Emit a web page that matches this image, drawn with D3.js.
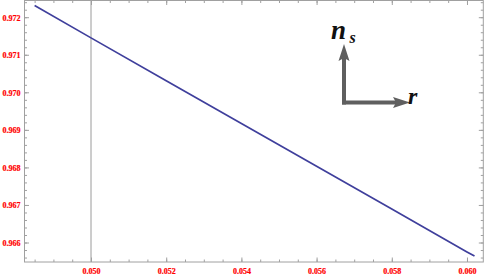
<!DOCTYPE html>
<html>
<head>
<meta charset="utf-8">
<script src="https://cdn.jsdelivr.net/npm/d3@7"></script>
<style>
  body { margin: 0; background: #fff; }
  svg { display: block; }
  .lbl { font-family: "Liberation Serif", "DejaVu Serif", serif; font-size: 8px; font-weight: bold; fill: #ff0000; stroke: #ff0000; stroke-width: 0.2px; }
</style>
</head>
<body>
<div id="chart"></div>
<script>
// values
const rValues  = [0.0485, 0.050, 0.052, 0.054, 0.056, 0.058, 0.060, 0.0602];
const nsValues = [0.97231, 0.97145, 0.97031, 0.96917, 0.96803, 0.96689, 0.96575, 0.96564];
const xTicks = [0.050, 0.052, 0.054, 0.056, 0.058, 0.060];
const yTicks = [0.966, 0.967, 0.968, 0.969, 0.970, 0.971, 0.972];
const xMinor = d3.range(0.0485, 0.0605, 0.0005);
const yMinor = d3.range(0.9656, 0.9725, 0.0002);

const width = 485, height = 277;
const margin = { top: 0.5, right: 1.7, bottom: 15, left: 24.5 };

const x = d3.scaleLinear()
    .domain([0.048231, 0.060434])
    .range([margin.left, width - margin.right]);
const y = d3.scaleLinear()
    .domain([0.965481, 0.972445])
    .range([height - margin.bottom, margin.top]);

const svg = d3.select("#chart").append("svg")
    .attr("width", width)
    .attr("height", height);

const frameColor = "#a0a0a0";

// origin axis line at r = 0.050
svg.append("line")
    .attr("x1", x(0.050)).attr("x2", x(0.050))
    .attr("y1", y.range()[1]).attr("y2", y.range()[0])
    .attr("stroke", "#9a9a9a").attr("stroke-width", 1);

// frame
svg.append("rect")
    .attr("x", x.range()[0]).attr("y", y.range()[1])
    .attr("width", x.range()[1] - x.range()[0])
    .attr("height", y.range()[0] - y.range()[1])
    .attr("fill", "none").attr("stroke", frameColor).attr("stroke-width", 1);

function ticks(axis, minor) {
  const g = svg.append("g");
  g.call(axis);
  g.select(".domain").remove();
  g.selectAll("line").attr("stroke", frameColor);
  if (minor) g.selectAll("text").remove();
  return g;
}

// minor ticks
ticks(d3.axisBottom(x).tickValues(xMinor).tickSize(-2.5).tickFormat(""), true)
    .attr("transform", `translate(0,${y.range()[0]})`);
ticks(d3.axisTop(x).tickValues(xMinor).tickSize(-2.5).tickFormat(""), true)
    .attr("transform", `translate(0,${y.range()[1]})`);
ticks(d3.axisLeft(y).tickValues(yMinor).tickSize(-2.5).tickFormat(""), true)
    .attr("transform", `translate(${x.range()[0]},0)`);
ticks(d3.axisRight(y).tickValues(yMinor).tickSize(-2.5).tickFormat(""), true)
    .attr("transform", `translate(${x.range()[1]},0)`);

// major ticks
const fmt = d3.format(".3f");
const bx = ticks(d3.axisBottom(x).tickValues(xTicks).tickSize(-4.5).tickFormat(fmt), false)
    .attr("transform", `translate(0,${y.range()[0]})`);
bx.selectAll("text").attr("class", "lbl").attr("dy", null).attr("y", 11.8);
ticks(d3.axisTop(x).tickValues(xTicks).tickSize(-4.5).tickFormat(""), true)
    .attr("transform", `translate(0,${y.range()[1]})`);
const ly = ticks(d3.axisLeft(y).tickValues(yTicks).tickSize(-4.5).tickFormat(fmt), false)
    .attr("transform", `translate(${x.range()[0]},0)`);
ly.selectAll("text").attr("class", "lbl").attr("x", -4).attr("dy", "0.35em");
ticks(d3.axisRight(y).tickValues(yTicks).tickSize(-4.5).tickFormat(""), true)
    .attr("transform", `translate(${x.range()[1]},0)`);
svg.selectAll(".tick text").attr("fill", null);

// curve
const line = d3.line().x((d, i) => x(rValues[i])).y(d => y(d));
svg.append("path")
    .datum(nsValues)
    .attr("d", line)
    .attr("fill", "none")
    .attr("stroke", "#3f3f9c")
    .attr("stroke-width", 1.7);

// arrows annotation
const arrowColor = "#5f5f5f";
const ox = 344, oy = 102.5;
svg.append("line")
    .attr("x1", ox).attr("y1", oy + 2).attr("x2", ox).attr("y2", 58)
    .attr("stroke", arrowColor).attr("stroke-width", 4);
svg.append("path")
    .attr("d", `M${ox},44 L${ox + 5.5},61 L${ox},58 L${ox - 5.5},61 Z`)
    .attr("fill", arrowColor);
svg.append("line")
    .attr("x1", ox - 2).attr("y1", oy).attr("x2", 396).attr("y2", oy)
    .attr("stroke", arrowColor).attr("stroke-width", 4);
svg.append("path")
    .attr("d", `M410,${oy} L393,${oy - 5.5} L396,${oy} L393,${oy + 5.5} Z`)
    .attr("fill", arrowColor);

const ann = svg.append("g")
    .attr("font-family", "'Liberation Serif', 'DejaVu Serif', serif")
    .attr("font-weight", "bold").attr("font-style", "italic")
    .attr("fill", "#111");
ann.append("text").attr("x", 331).attr("y", 38.7).attr("font-size", 27).text("n");
ann.append("text").attr("x", 349.5).attr("y", 42.7).attr("font-size", 16).text("s");
ann.append("text").attr("x", 408).attr("y", 103.5).attr("font-size", 24).text("r");
</script>
</body>
</html>
